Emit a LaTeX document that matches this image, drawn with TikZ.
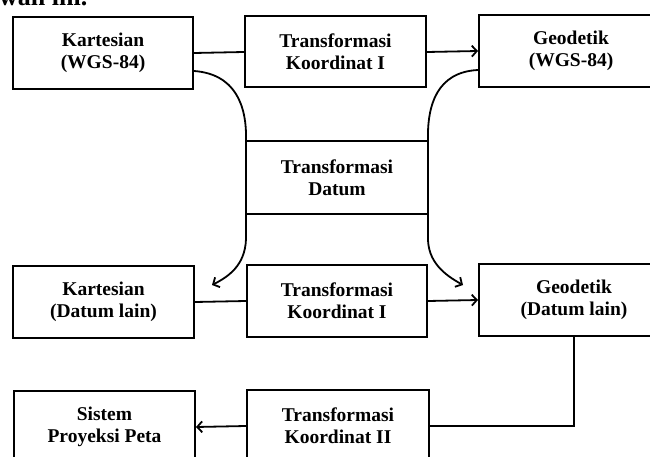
\documentclass[tikz,border=0pt]{standalone}
\usepackage{fontspec}
\setmainfont{Liberation Serif}
\usetikzlibrary{arrows.meta}
\begin{document}
\begin{tikzpicture}[x=1pt,y=-1pt,
  box/.style={draw,line width=2pt,minimum width=180pt,minimum height=72pt,
    inner sep=0pt,align=center,font=\fontsize{19.5}{22}\selectfont\bfseries},
  link/.style={line width=1.8pt},
  tip/.style={-{Straight Barb[length=5pt,width=11pt,line width=1.8pt]}}]
\useasboundingbox (0,0) rectangle (650,457);

% heading line cut by the top edge
\node[anchor=base west,inner sep=0pt,font=\fontsize{26}{30}\selectfont\bfseries]
  (head) at (-1,6) {wah ini.};

% first row: WGS-84
\node[box] (k1) at (103,53) {Kartesian\\(WGS-84)};
\node[box,minimum width=181pt,minimum height=71pt] (t1) at (335.5,52) {Transformasi\\Koordinat I};
\node[box,minimum width=184pt] (g1) at (571,51) {Geodetik\\(WGS-84)};

% datum transformation: only the top and bottom edges are ruled
\node[box,draw=none,minimum height=71pt] (td) at (337,177.5) {Transformasi\\Datum};
\draw[link,line width=2pt] (td.north west) -- (td.north east);
\draw[link,line width=2pt] (td.south west) -- (td.south east);

% second row: other datum
\node[box,minimum width=181pt] (k2) at (103.5,302) {Kartesian\\(Datum lain)};
\node[box] (t2) at (337,301) {Transformasi\\Koordinat I};
\node[box,minimum width=190pt] (g2) at (574,300) {Geodetik\\(Datum lain)};

% third row: map projection
\node[box,minimum width=181pt] (s3) at (104.5,427) {Sistem\\Proyeksi Peta};
\node[box,minimum width=182pt] (t3) at (338,426) {Transformasi\\Koordinat II};

% free ends of the datum curves
\coordinate (tipL) at (212,285);
\coordinate (tipR) at (463,285);

% horizontal connectors
\draw[link] (k1.east) -- (t1.west);
\draw[link,tip] (t1.east) -- (g1.west);
\draw[link] (k2.east) -- (t2.west);
\draw[link,tip] (t2.east) -- (g2.west);
\draw[link] (g2.south) -- (g2.south |- t3.east) -- (t3.east);
\draw[link,tip] (t3.west) -- (s3.east);

% curves through the datum transformation
\draw[link,tip] ([yshift=-18pt]k1.east)
  .. controls (235,74) and (247,105) .. (td.north west)
  -- ([yshift=-20pt]td.south west)
  .. controls (247,262) and (232,275) .. (tipL);
\draw[link,tip] ([yshift=-19pt]g1.west)
  .. controls (437,72) and (427,105) .. (td.north east)
  -- ([yshift=-22pt]td.south east)
  .. controls (427,262) and (445,275) .. (tipR);
\end{tikzpicture}
\end{document}
